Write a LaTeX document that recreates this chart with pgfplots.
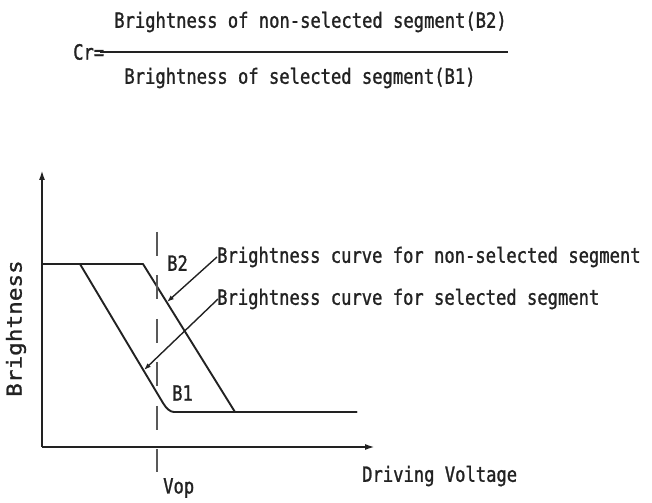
\documentclass[border=0pt]{standalone}
\usepackage{fontspec}
\usepackage{pgfplots}
\pgfplotsset{compat=1.18}
\usetikzlibrary{arrows.meta}
\newfontfamily\cadfont[FakeStretch=0.82,FakeBold=1.2]{DejaVu Sans Mono}
\newfontfamily\cadwide[FakeStretch=1.1,FakeBold=1.2]{DejaVu Sans Mono}
\definecolor{ink}{HTML}{222222}
\begin{document}
\begin{tikzpicture}
\begin{axis}[
  scale only axis,
  width=333bp, height=277bp,
  xmin=0, xmax=333, ymin=0, ymax=277,
  axis lines=none,
  xtick=\empty, ytick=\empty,
  clip=false,
]
% invisible frame giving the page its size
\path (axis cs:-42,-56) rectangle (axis cs:610,447);
% axes with arrows
\draw[ink, line width=1.9pt, -{Latex[length=10pt,width=6pt]}] (axis cs:0,0) -- (axis cs:333,0);
\draw[ink, line width=1.9pt, -{Latex[length=10pt,width=6pt]}] (axis cs:0,0) -- (axis cs:0,277);
% non-selected segment curve (B2)
\addplot[ink, line width=1.9pt, line join=round] coordinates {
  (0,183) (101,183) (193,35) (315,35)};
% selected segment curve (B1)
\addplot[ink, line width=1.9pt, line join=round] coordinates {
  (0,183) (38,183) (121,44) (123.7,40.1) (126.5,37.3) (129.2,35.6) (132,35) (315,35)};
% Vop dashed line
\addplot[ink!75, line width=1.6pt, dash pattern=on 24bp off 19.5bp] coordinates {
  (115,215) (115,-25)};
% pointer arrows
\draw[ink, line width=1.4pt, -{Latex[length=7pt,width=5pt]}] (axis cs:175,190) -- (axis cs:125,145);
\draw[ink, line width=1.4pt, -{Latex[length=7pt,width=5pt]}] (axis cs:176,148) -- (axis cs:102,77);
% labels
\node[anchor=west, text=ink, inner sep=0pt, font=\cadfont\fontsize{21}{21}\selectfont] at (axis cs:175,190) {Brightness curve for non-selected segment};
\node[anchor=west, text=ink, inner sep=0pt, font=\cadfont\fontsize{21}{21}\selectfont] at (axis cs:175,148) {Brightness curve for selected segment};
\node[anchor=west, text=ink, inner sep=0pt, font=\cadfont\fontsize{21}{21}\selectfont] at (axis cs:125,184) {B2};
\node[anchor=west, text=ink, inner sep=0pt, font=\cadfont\fontsize{21}{21}\selectfont] at (axis cs:130,54) {B1};
\node[anchor=west, text=ink, inner sep=0pt, font=\cadfont\fontsize{21}{21}\selectfont] at (axis cs:121,-41) {Vop};
\node[anchor=west, text=ink, inner sep=0pt, font=\cadfont\fontsize{21}{21}\selectfont] at (axis cs:320,-29) {Driving Voltage};
\node[rotate=90, text=ink, inner sep=0pt, font=\cadwide\fontsize{20.7}{20.7}\selectfont] at (axis cs:-26,118.5) {Brightness};
% contrast ratio formula
\node[text=ink, inner sep=0pt, font=\cadfont\fontsize{21}{21}\selectfont] at (axis cs:268.5,425) {Brightness of non-selected segment(B2)};
\node[text=ink, inner sep=0pt, font=\cadfont\fontsize{21}{21}\selectfont] at (axis cs:258,369) {Brightness of selected segment(B1)};
\node[anchor=west, text=ink, inner sep=0pt, font=\cadfont\fontsize{21}{21}\selectfont] at (axis cs:31,395) {Cr=};
\draw[ink, line width=1.9pt] (axis cs:58,395) -- (axis cs:466,395);
\end{axis}
\end{tikzpicture}
\end{document}
